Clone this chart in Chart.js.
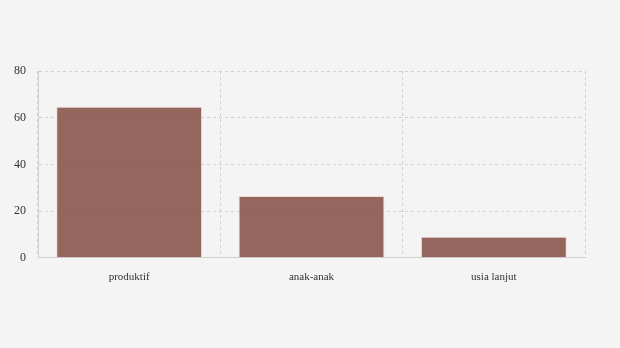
<!DOCTYPE html>
<html>
<head>
<meta charset="utf-8">
<script src="https://cdn.jsdelivr.net/npm/chart.js@4"></script>
<style>
  html, body { margin: 0; padding: 0; background: #f4f4f4; }
  #wrap { width: 620px; height: 348px; }
</style>
</head>
<body>
<div id="wrap"><canvas id="chart" width="620" height="348"></canvas></div>
<script>
const categories = ['produktif', 'anak-anak', 'usia lanjut'];
const values = [64.7, 26.5, 9.0];
const yTicks = [0, 20, 40, 60, 80];

const gridColor = '#d0d0d0';

const ctx = document.getElementById('chart').getContext('2d');
new Chart(ctx, {
    type: 'bar',
    data: {
        labels: categories,
        datasets: [{
            data: values,
            backgroundColor: 'rgba(134, 80, 70, 0.87)',
            borderColor: 'rgba(240, 215, 210, 0.9)',
            borderWidth: 1,
            barPercentage: 1,
            categoryPercentage: 0.8
        }]
    },
    options: {
        responsive: false,
        animation: false,
        layout: { padding: { top: 71, left: 2, right: 35, bottom: 51 } },
        plugins: { legend: { display: false }, tooltip: { enabled: false } },
        scales: {
            x: {
                grid: { color: gridColor, borderDash: [3, 3], drawTicks: false, offset: true },
                border: { color: gridColor, dash: [3, 3] },
                ticks: { color: '#333', padding: 13, font: { family: 'Liberation Serif', size: 11 } }
            },
            y: {
                min: 0,
                max: 80,
                afterBuildTicks: axis => { axis.ticks = yTicks.map(v => ({ value: v })); },
                grid: { color: gridColor, borderDash: [3, 3], drawTicks: false },
                border: { color: gridColor, dash: [3, 3] },
                ticks: { color: '#333', padding: 12, font: { family: 'Liberation Serif', size: 12 } }
            }
        }
    }
});
</script>
</body>
</html>
